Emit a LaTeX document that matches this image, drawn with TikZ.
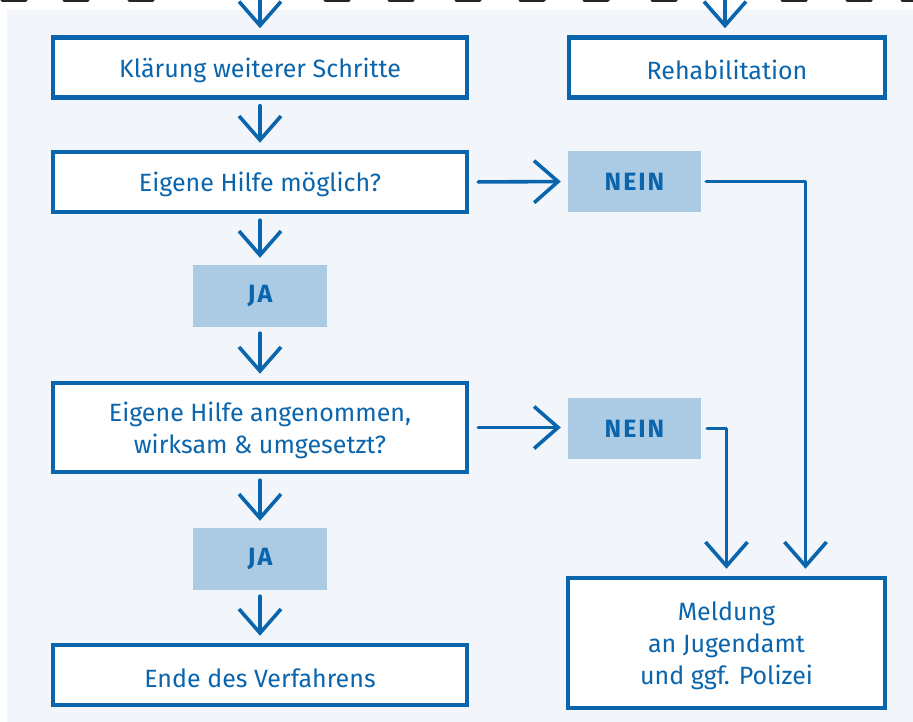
\documentclass[tikz,border=0pt]{standalone}
\usepackage{fontspec}
\setmainfont{Fira Sans}
\newfontfamily\boldsp[LetterSpace=8]{Fira Sans Bold}
\usetikzlibrary{arrows.meta}
\definecolor{dblue}{HTML}{0A65AD}
\definecolor{lblue}{HTML}{ABCAE4}
\definecolor{bgc}{HTML}{F2F6FB}
\newcommand{\topstrut}{\rule{0pt}{25pt}}
\tikzset{
  box/.style={draw=dblue, line width=4.5pt, fill=white, text=dblue, align=center,
    font=\fontsize{25}{32}\selectfont, inner sep=0pt},
  tag/.style={fill=lblue, text=dblue, minimum width=134pt, minimum height=62pt,
    font=\fontsize{25}{30}\boldsp, inner sep=0pt},
  arr/.style={draw=dblue, line width=3.6pt, line cap=round, line join=round,
    -{Straight Barb[length=24pt,width=42pt,line width=3.6pt]}},
  cutdash/.style={line width=3pt, draw=black!85, line cap=round}
}
\begin{document}
\begin{tikzpicture}[x=1pt,y=-1pt]
\useasboundingbox (0,0) rectangle (913,722);
\fill[bgc] (7,10) rectangle (913,722);
% cut-off dashes at the top
\foreach \xa in {0,62,127,323,387,454,518,582,650,780,845,900}
  \draw[cutdash] (\xa+2,0.5) -- (\xa+26,0.5);
% left column
\node[box, minimum width=414pt, minimum height=60pt] (b1) at (260,67.5) {\topstrut Klärung weiterer Schritte};
\node[box, minimum width=414pt, minimum height=60pt] (b2) at (260,182) {\topstrut Eigene Hilfe möglich?};
\node[tag] (ja1) at (260,296) {JA};
\node[box, minimum width=414pt, minimum height=89pt] (b3) at (260,427.5) {\topstrut Eigene Hilfe angenommen,\\wirksam \& umgesetzt?};
\node[tag] (ja2) at (260,559) {JA};
\node[box, minimum width=414pt, minimum height=60pt] (b4) at (260,675) {\topstrut Ende des Verfahrens};
% right column
\node[box, minimum width=316pt, minimum height=60pt] (reha) at (727,67.5) {\topstrut Rehabilitation};
\node[tag, minimum width=133pt, minimum height=61pt] (n1) at (634.5,181.5) {NEIN};
\node[tag, minimum width=133pt, minimum height=61pt] (n2) at (634.5,428.5) {NEIN};
\node[box, minimum width=317pt, minimum height=130pt] (meld) at (726.5,643) {\topstrut Meldung\\an Jugendamt\\und ggf. Polizei};
% free ends at the top
\coordinate (t1) at (260,0);
\coordinate (t2) at (725,0);
% connectors
\draw[arr, shorten >=7pt] (t1) -- (b1.north);
\draw[arr, shorten >=7pt] (t2) -- (t2 |- reha.north);
\draw[arr, shorten <=6pt, shorten >=7pt] (b1.south) -- (b2.north);
\draw[arr, shorten <=6pt, shorten >=7pt] (b2.south) -- (ja1.north);
\draw[arr, shorten <=6pt, shorten >=7pt] (ja1.south) -- (b3.north);
\draw[arr, shorten <=6pt, shorten >=7pt] (b3.south) -- (ja2.north);
\draw[arr, shorten <=6pt, shorten >=7pt] (ja2.south) -- (b4.north);
\draw[arr, shorten <=9pt, shorten >=7pt] (b2.east) -- (n1.west);
\draw[arr, shorten <=9pt, shorten >=7pt] (b3.east) -- (b3.east -| n2.west);
\draw[arr, shorten <=5pt, shorten >=7pt] (n1.east) -| ([xshift=79pt]meld.north);
\draw[arr, shorten <=6pt, shorten >=7pt] (n2.east) -| (meld.north);
\end{tikzpicture}
\end{document}
